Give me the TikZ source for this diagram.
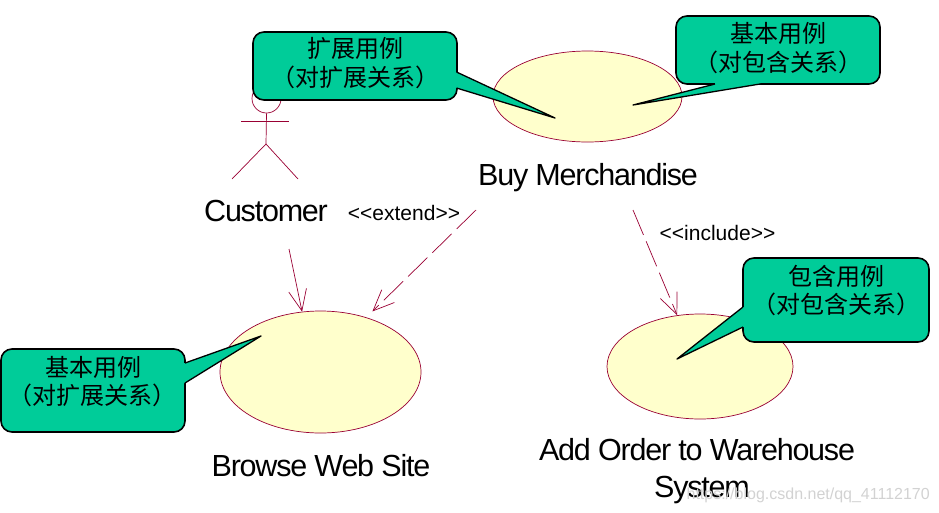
\documentclass[tikz,border=0pt]{standalone}
\usepackage{fontspec}
\setmainfont{Liberation Sans}
\newfontfamily\cjk{Noto Sans CJK SC}
\newfontfamily\tightsans[LetterSpace=-4]{Liberation Sans}
\usetikzlibrary{arrows.meta,positioning,shapes.geometric}
\definecolor{usecaseline}{HTML}{990033}
\definecolor{usecasefill}{HTML}{FFFFCC}
\definecolor{notegreen}{HTML}{00CC99}
\newcommand{\notepad}[1]{\rule[-#1pt]{0pt}{#1pt}}

\begin{document}
\begin{tikzpicture}[
    x=1pt, y=-1pt,
    usecase/.style={draw=usecaseline, fill=usecasefill, ellipse, line width=0.7pt, inner sep=0pt},
    caption/.style={font=\tightsans\fontsize{30.5}{37}\selectfont, align=center, inner sep=0pt},
    stereo/.style={font=\fontsize{21}{25}\selectfont, inner sep=0pt},
    note/.style={draw=black, fill=notegreen, rounded corners=11pt, line width=1.6pt, align=center, inner sep=0pt, font=\cjk\fontsize{24}{28.5}\selectfont},
    notetail/.style={fill=notegreen},
    tailedge/.style={draw=black, line width=1.3pt, line join=round},
    limb/.style={draw=usecaseline, line width=0.7pt},
    arrow/.style={-{Straight Barb[length=21pt, width=18pt, line width=0.7pt]}, draw=usecaseline, line width=0.7pt},
    dasharrow/.style={arrow, dash pattern=on 27pt off 7pt}
  ]
    \useasboundingbox (0,0) rectangle (939,512);
    \node[usecase, minimum width=189pt, minimum height=91pt] (buy) at (587.5,96.5) {};
    \node[usecase, minimum width=201pt, minimum height=122pt] (browse) at (320.5,372) {};
    \node[usecase, minimum width=186pt, minimum height=105pt] (warehouse) at (700,366.5) {};
    \node[caption] (buylabel) at (588,178) {Buy Merchandise};
    \node[caption] (browselabel) at (321,466) {Browse Web Site};
    \node[caption] (warehouselabel) at (697,471.5) {Add Order to Warehouse\\\hspace{10pt}System};
    \node[caption] (customer) at (266,211) {Customer};
    \node[stereo] (extendlabel) at (404,213) {<{}<extend>{}>};
    \node[stereo] (includelabel) at (717.5,233) {<{}<include>{}>};
    \node[draw=usecaseline, line width=0.7pt, circle, minimum size=29pt, inner sep=0pt] (head) at (266.5,98.5) {};
    \coordinate (hip) at (266,144);
    \coordinate (armleft) at (241,121);
    \coordinate (armright) at (289,121);
    \coordinate (footleft) at (232,179);
    \coordinate (footright) at (298,179);
    \draw[limb] (head.south) -- (hip);
    \draw[limb] (armleft) -- (armright);
    \draw[limb] (footleft) -- (hip) -- (footright);
    \coordinate (customerout) at (289,249);
    \coordinate (extendout) at (476,210);
    \coordinate (includeout) at (633,210);
    \draw[arrow] (customerout) -- (browse.107);
    \draw[dasharrow, shorten >=8.5pt] (extendout) -- (browse.50);
    \draw[dasharrow] (includeout) -- (warehouse.114);
    \node[note, minimum width=204pt, minimum height=68pt] (extnote) at (355,66) {扩展用例\\（对扩展关系）\notepad{8}};
    \node[note, minimum width=204pt, minimum height=68pt] (incbase) at (778,50) {基本用例\\（对包含关系）\notepad{6}};
    \node[note, minimum width=184pt, minimum height=83pt] (extbase) at (93,390.5) {基本用例\\（对扩展关系）\notepad{20}};
    \node[note, minimum width=186pt, minimum height=84pt] (incnote) at (836,300) {包含用例\\（对包含关系）\notepad{21}};
    \coordinate (extnotetip) at (555,118);
    \coordinate (incbasetip) at (633,105);
    \coordinate (extbasetip) at (261,336);
    \coordinate (incnotetip) at (677,359);
    \fill[notetail] (456.5,72) -- (extnotetip) -- (456.5,88) -- (453,88) -- (453,72) -- cycle;
    \draw[tailedge] (456.5,72) -- (extnotetip) -- (456.5,88);
    \fill[notetail] (715,84) -- (incbasetip) -- (760,84) -- (760,81) -- (715,81) -- cycle;
    \draw[tailedge] (715,84) -- (incbasetip) -- (760,84);
    \fill[notetail] (185,363) -- (extbasetip) -- (185,383) -- (182,383) -- (182,363) -- cycle;
    \draw[tailedge] (185,363) -- (extbasetip) -- (185,383);
    \fill[notetail] (743,307) -- (incnotetip) -- (743,327) -- (746,327) -- (746,307) -- cycle;
    \draw[tailedge] (743,307) -- (incnotetip) -- (743,327);
    \node[text=gray!35, font=\fontsize{16}{20}\selectfont, inner sep=0pt, anchor=east] (csdn) at (930,495) {https://blog.csdn.net/qq\_41112170};
\end{tikzpicture}
\end{document}
